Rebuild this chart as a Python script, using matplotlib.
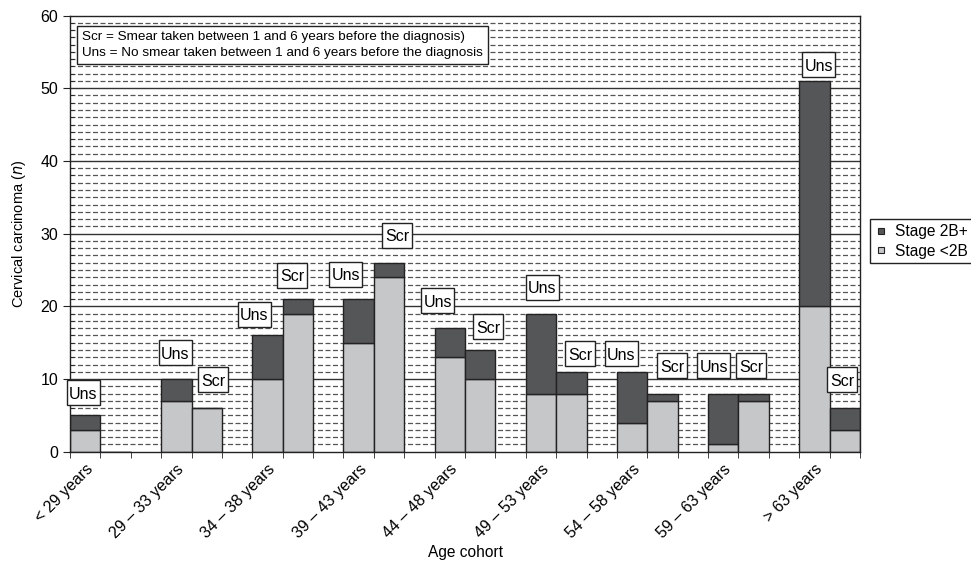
import numpy as np
from matplotlib import pyplot as plt
from matplotlib.lines import Line2D
from matplotlib.patches import Rectangle
from matplotlib.transforms import ScaledTranslation

plt.rcParams["font.family"] = ["Liberation Sans", "DejaVu Sans"]

# data: per age cohort, unscreened (Uns) and screened (Scr) bars
cohorts = ["< 29 years", "29 – 33 years", "34 – 38 years", "39 – 43 years",
           "44 – 48 years", "49 – 53 years", "54 – 58 years", "59 – 63 years",
           "> 63 years"]
uns_early = [3, 7, 10, 15, 13, 8, 4, 1, 20]     # Stage <2B
uns_late = [2, 3, 6, 6, 4, 11, 7, 7, 31]        # Stage 2B+
scr_early = [0, 6, 19, 24, 10, 8, 7, 7, 3]
scr_late = [0, 0, 2, 2, 4, 3, 1, 1, 3]

# hand placed label boxes (slot units, data units)
uns_lab_x = [-0.06, 2.97, 5.57, 8.58, 11.60, 15.05, 17.65, 20.68, 24.14]
uns_lab_y = [8.1, 13.6, 18.9, 24.4, 20.8, 22.6, 13.5, 11.8, 53.2]
scr_lab_x = [None, 4.21, 6.81, 10.26, 13.26, 16.29, 19.32, 21.92, 24.91]
scr_lab_y = [None, 9.9, 24.3, 29.8, 17.2, 13.5, 11.8, 11.8, 9.9]

dark = "#555658"
light = "#c6c7c9"
edge = "#222222"

n = len(cohorts)
uns_x = np.arange(n) * 3
scr_x = uns_x + 1

fig = plt.figure(figsize=(9.71, 5.64), dpi=100)
ax = fig.add_axes([0.0721, 0.199, 0.8136, 0.7735])

# grid
for y in np.arange(1, 60):
    if y % 10 == 0:
        ax.axhline(y, color="#333333", lw=1.0, zorder=0)
    else:
        ax.axhline(y, color="#555555", lw=0.9, ls=(0, (4, 2)), zorder=0)

bw = 1.0
ax.bar(uns_x, uns_early, width=bw, color=light, edgecolor=edge, lw=1, zorder=2)
ax.bar(uns_x, uns_late, bottom=uns_early, width=bw, color=dark, edgecolor=edge, lw=1, zorder=2)
ax.bar(scr_x, scr_early, width=bw, color=light, edgecolor=edge, lw=1, zorder=2)
ax.bar(scr_x, scr_late, bottom=scr_early, width=bw, color=dark, edgecolor=edge, lw=1, zorder=2)


def label_box(x, y, txt, w):
    # box sized in inches, centred on a data point
    tr = fig.dpi_scale_trans + ScaledTranslation(x, y, ax.transData)
    h = 0.25
    ax.add_patch(Rectangle((-w / 2, -h / 2), w, h, transform=tr, fc="white",
                           ec="#222222", lw=1, zorder=3, clip_on=False))
    ax.text(x, y, txt, ha="center", va="center_baseline", fontsize=11.5, zorder=4)


for x, y in zip(uns_lab_x, uns_lab_y):
    label_box(x, y, "Uns", 0.33)
for x, y in zip(scr_lab_x, scr_lab_y):
    if x is None:
        continue
    label_box(x, y, "Scr", 0.30)

ax.add_patch(Rectangle((-0.26, 53.3), 13.52, 5.25, fc="white", ec="#222222", lw=1, zorder=4))
ax.text(-0.09, 55.95,
        "Scr = Smear taken between 1 and 6 years before the diagnosis)\n"
        "Uns = No smear taken between 1 and 6 years before the diagnosis",
        ha="left", va="center", fontsize=9.7, linespacing=1.45, zorder=5)

# axes
ax.set_xlim(-0.5, 25.5)
ax.set_ylim(0, 60)
ax.set_yticks(np.arange(0, 61, 10))
ax.set_yticks(np.arange(0, 61, 1), minor=True)
ax.tick_params(axis="y", which="major", direction="out", length=5, labelsize=11.5, color="#222222")
ax.tick_params(axis="y", which="minor", direction="in", length=3, color="#222222")

ax.set_xticks(uns_x)
ax.set_xticklabels(cohorts, rotation=45, ha="right", va="top", rotation_mode="anchor", fontsize=11.5)
ax.set_xticks(np.arange(-0.5, 26, 1), minor=True)
ax.tick_params(axis="x", which="major", length=0, pad=7)
ax.tick_params(axis="x", which="minor", direction="out", length=4, color="#222222")

for s in ax.spines.values():
    s.set_color("#222222")
    s.set_linewidth(1)

ax.set_xlabel("Age cohort", fontsize=11.2, labelpad=3)
ax.set_ylabel("Cervical carcinoma ($\\it{n}$)", fontsize=10.5, labelpad=9)

handles = [
    Line2D([], [], ls="none", marker="s", markersize=5, mfc=dark, mec="#222222", mew=0.8),
    Line2D([], [], ls="none", marker="s", markersize=5, mfc=light, mec="#222222", mew=0.8),
]
fig.legend(handles, ["Stage 2B+", "Stage <2B"], loc="center left",
           bbox_to_anchor=(0.896, 0.572), fontsize=11.2, frameon=True, fancybox=False,
           edgecolor="#222222", framealpha=1, handlelength=0.8, handletextpad=0.5,
           borderpad=0.3, labelspacing=0.3, borderaxespad=0)

plt.savefig("out.png", dpi=100)
plt.close()
